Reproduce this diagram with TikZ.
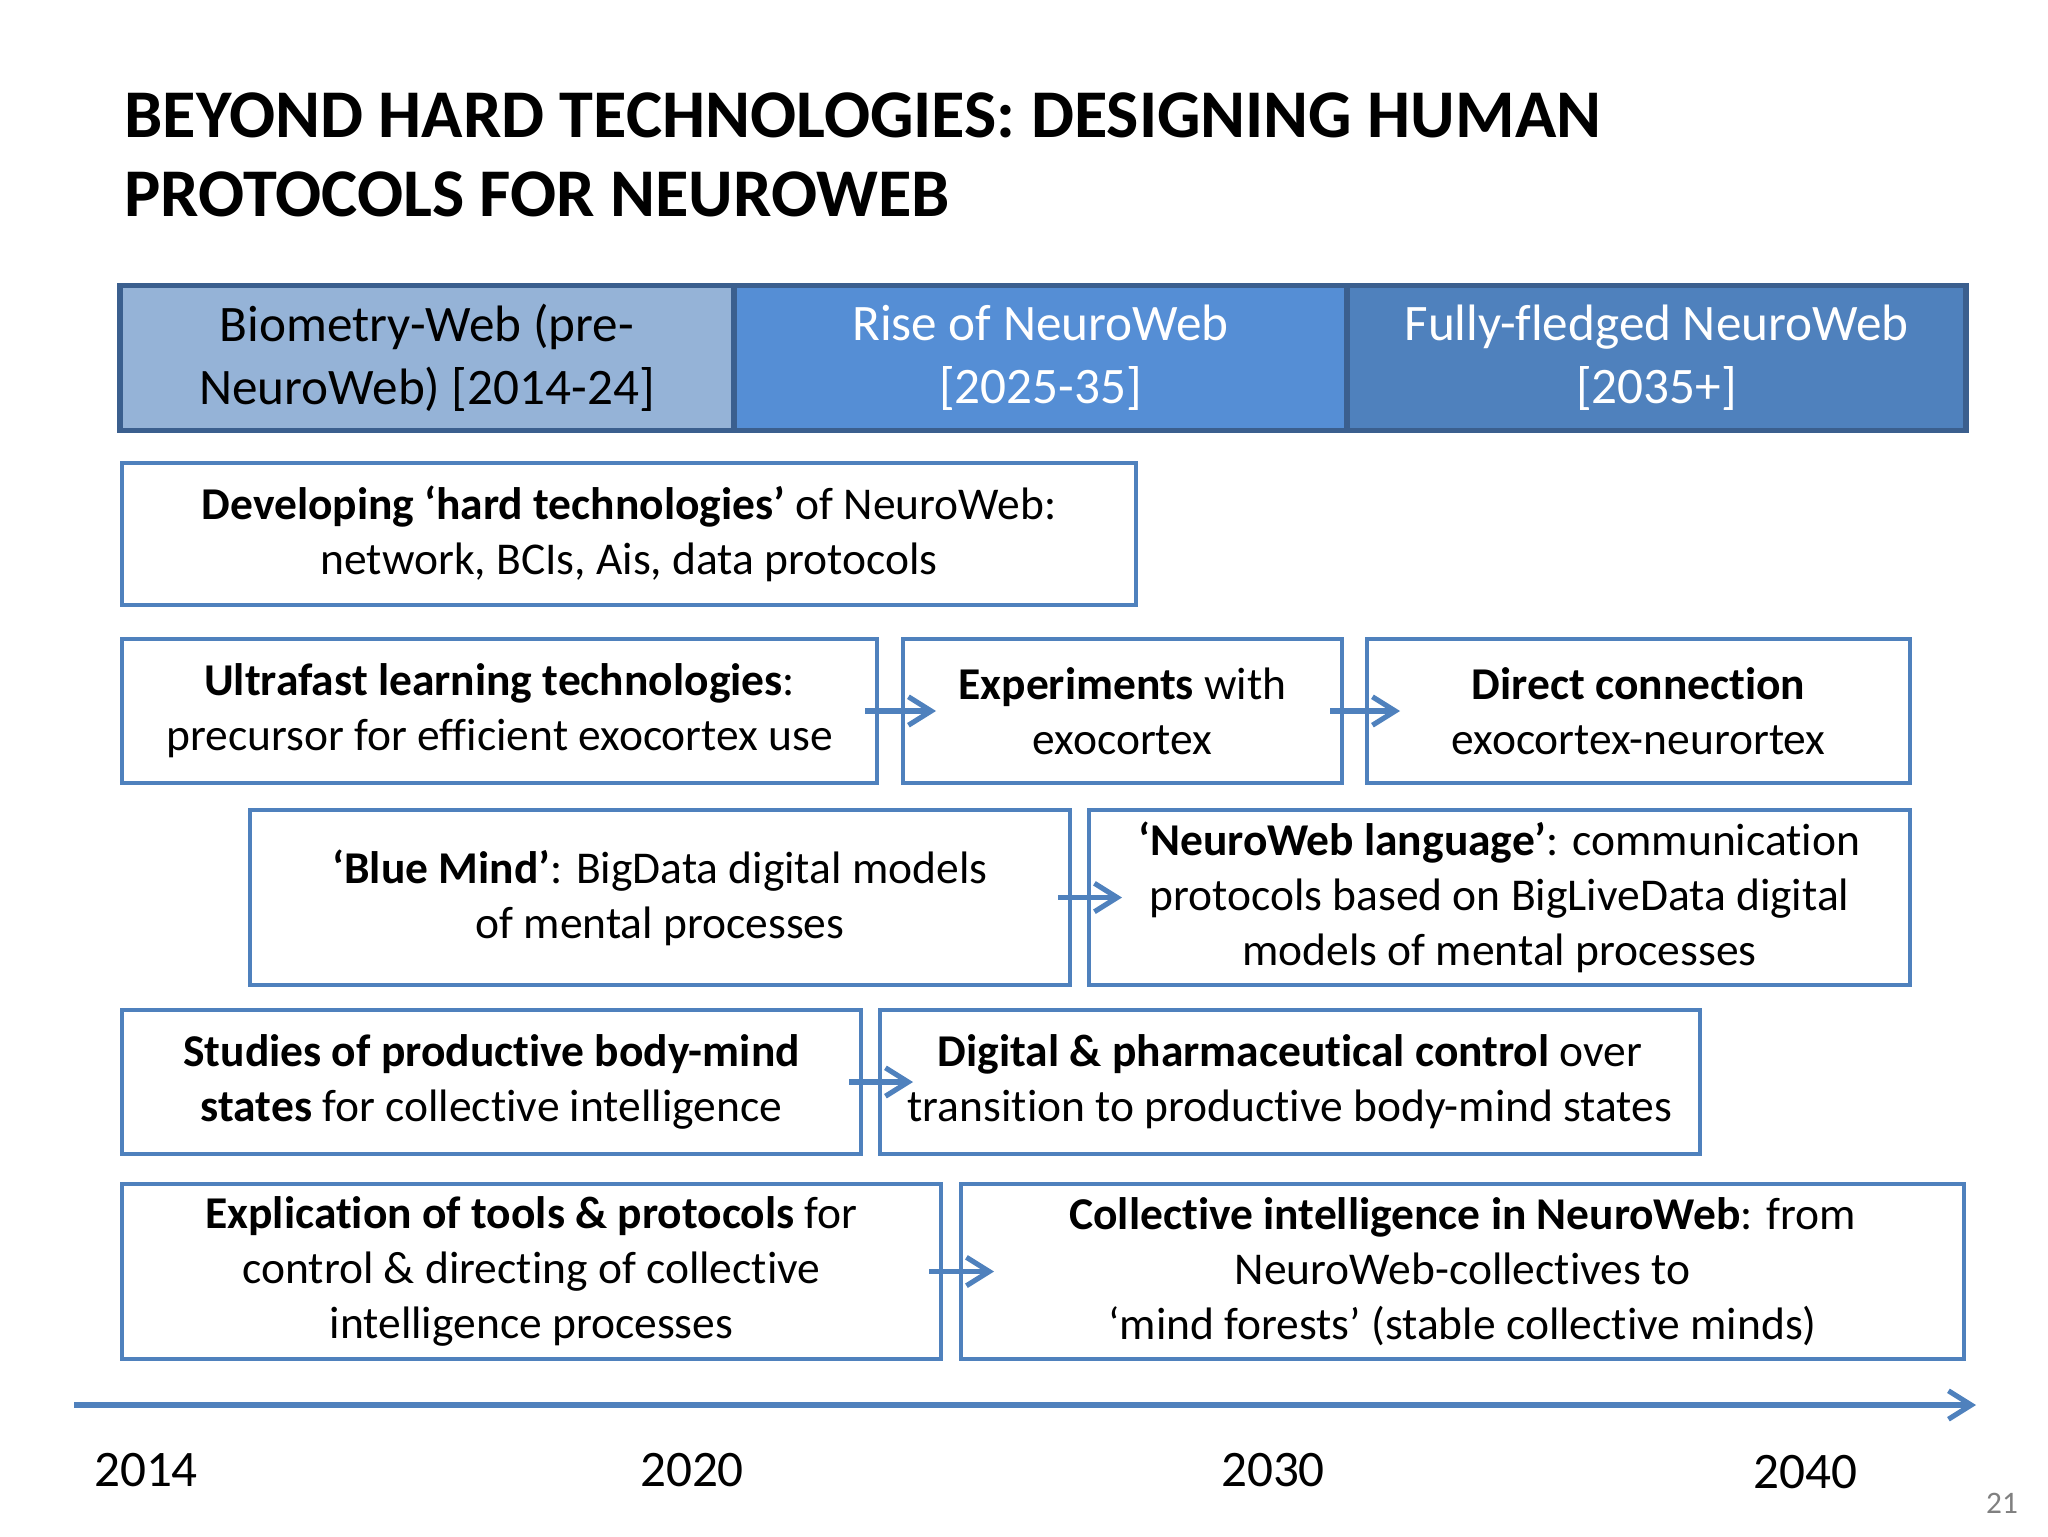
\documentclass[tikz,border=0pt]{standalone}
\usepackage{fontspec}
\setmainfont{Carlito}[Ligatures=NoCommon]
\usepackage{xcolor}
\usepackage{tikz}
\usetikzlibrary{arrows.meta}

\definecolor{boxblue}{HTML}{4F81BD}
\definecolor{bardark}{HTML}{3B5F8E}
\definecolor{fillone}{HTML}{95B3D7}
\definecolor{filltwo}{HTML}{558ED5}
\definecolor{fillthree}{HTML}{4F81BD}

\newcommand{\pxu}{0.3516pt}

\begin{document}
\begin{tikzpicture}[x=\pxu, y=-\pxu,
    every node/.style={align=center, inner sep=0pt},
    stagebox/.style={rectangle, draw=boxblue, line width=1.4pt, fill=white,
        font=\fontsize{16}{19.4}\selectfont},
    phase/.style={rectangle, draw=bardark, line width=2pt,
        font=\fontsize{18}{22.1}\selectfont},
    flow/.style={draw=boxblue, line width=1.8pt,
        -{Straight Barb[length=8pt, width=10pt, line width=1.8pt]}},
    year/.style={font=\fontsize{18}{21}\selectfont}]
    \useasboundingbox (0,0) rectangle (2048,1536);

    % title
    \node[anchor=west, align=left, font=\fontsize{24}{28}\selectfont\bfseries] (title) at (124,155)
        {BEYOND HARD TECHNOLOGIES: DESIGNING HUMAN\\PROTOCOLS FOR NEUROWEB};

    % phases
    \node[phase, fill=fillone, minimum width=614*\pxu, minimum height=145*\pxu] (bio) at (427,358)
        {Biometry-Web (pre-\\NeuroWeb) [2014-24]};
    \node[phase, fill=filltwo, text=white, minimum width=613*\pxu, minimum height=145*\pxu] (rise) at (1040.5,358)
        {Rise of NeuroWeb\\{[2025-35]}};
    \node[phase, fill=fillthree, text=white, minimum width=619*\pxu, minimum height=145*\pxu] (full) at (1656.5,358)
        {Fully-fledged NeuroWeb\\{[2035+]}};

    % rows of boxes
    \node[stagebox, minimum width=1014*\pxu, minimum height=142*\pxu] (hard) at (629,534)
        {\textbf{Developing ‘hard technologies’} of NeuroWeb:\\network, BCIs, Ais, data protocols};

    \node[stagebox, minimum width=755*\pxu, minimum height=144*\pxu] (ultra) at (499.5,711)
        {\textbf{Ultrafast learning technologies}:\\precursor for efficient exocortex use};
    \node[stagebox, minimum width=439*\pxu, minimum height=144*\pxu] (exper) at (1122.5,711)
        {\textbf{Experiments} with\\exocortex};
    \node[stagebox, minimum width=543*\pxu, minimum height=144*\pxu] (direct) at (1638.5,711)
        {\textbf{Direct connection}\\exocortex-neurortex};

    \node[stagebox, minimum width=820*\pxu, minimum height=175*\pxu] (blue) at (660,897.5)
        {\textbf{‘Blue Mind’}: BigData digital models\\of mental processes};
    \node[stagebox, minimum width=821*\pxu, minimum height=175*\pxu] (lang) at (1499.5,897.5)
        {\textbf{‘NeuroWeb language’}: communication\\protocols based on BigLiveData digital\\models of mental processes};

    \node[stagebox, minimum width=739*\pxu, minimum height=144*\pxu] (states) at (491.5,1082)
        {\textbf{Studies of productive body-mind}\\\textbf{states} for collective intelligence};
    \node[stagebox, minimum width=820*\pxu, minimum height=144*\pxu] (pharma) at (1290,1082)
        {\textbf{Digital \& pharmaceutical control} over\\transition to productive body-mind states};

    \node[stagebox, minimum width=819*\pxu, minimum height=175*\pxu] (tools) at (531.5,1271.5)
        {\textbf{Explication of tools \& protocols} for\\control \& directing of collective\\intelligence processes};
    \node[stagebox, minimum width=1003*\pxu, minimum height=175*\pxu] (forest) at (1462.5,1271.5)
        {\textbf{Collective intelligence in NeuroWeb}: from\\NeuroWeb-collectives to\\‘mind forests’ (stable collective minds)};

    % arrows between boxes
    \draw[flow] ([xshift=-14*\pxu]ultra.east) -- ([xshift=35*\pxu]exper.west);
    \draw[flow] ([xshift=-14*\pxu]exper.east) -- ([xshift=35*\pxu]direct.west);
    \draw[flow] ([xshift=-14*\pxu]blue.east) -- ([xshift=35*\pxu]lang.west);
    \draw[flow] ([xshift=-14*\pxu]states.east) -- ([xshift=35*\pxu]pharma.west);
    \draw[flow] ([xshift=-14*\pxu]tools.east) -- ([xshift=35*\pxu]forest.west);

    % time axis
    \coordinate (t0) at (74,1405);
    \coordinate (t1) at (1976,1405);
    \draw[flow, line width=2.1pt] (t0) -- (t1);
    \node[year] (y14) at (146,1470) {2014};
    \node[year] (y20) at (692,1470) {2020};
    \node[year] (y30) at (1273,1470) {2030};
    \node[year] (y40) at (1805,1472) {2040};

    \node[text=gray, font=\fontsize{11}{12}\selectfont] (page) at (2002,1503) {21};
\end{tikzpicture}
\end{document}
